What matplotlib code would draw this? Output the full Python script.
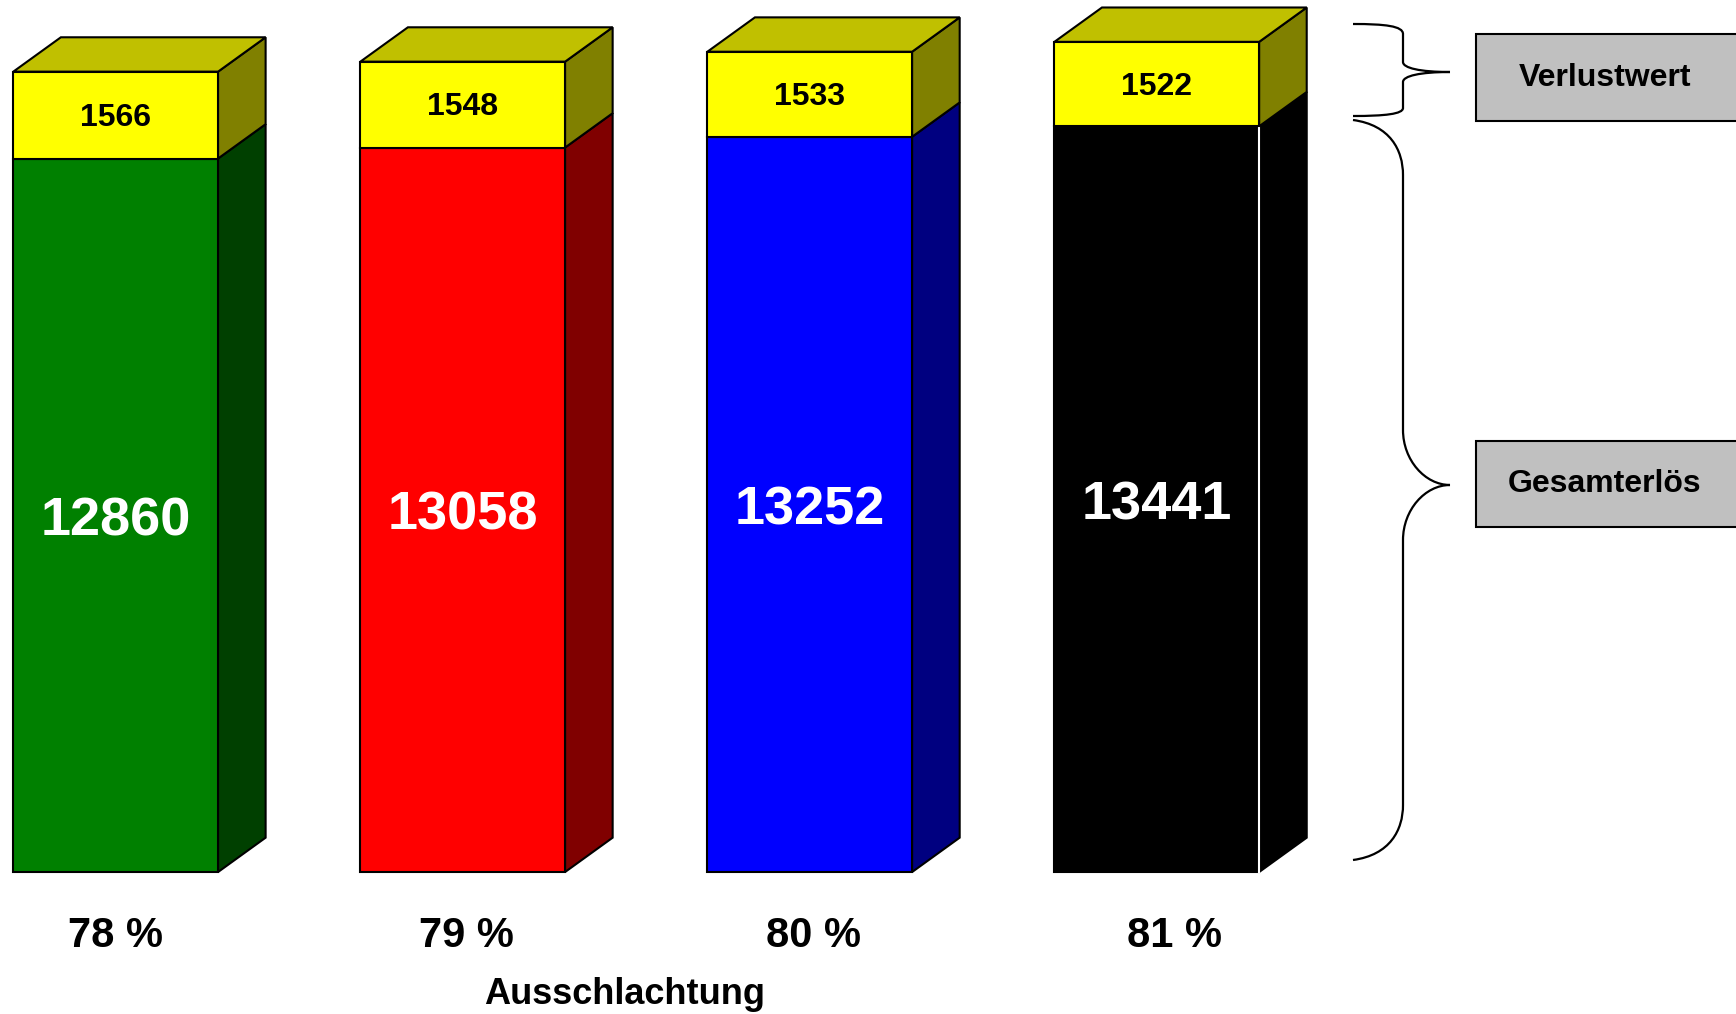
import matplotlib
matplotlib.use('Agg')
import matplotlib.pyplot as plt
from matplotlib.patches import Polygon, Rectangle, PathPatch
from matplotlib.path import Path

plt.rcParams['font.family'] = ['Liberation Sans', 'DejaVu Sans']

# data
ausschlachtung = ['78 %', '79 %', '80 %', '81 %']
gesamterloes = [12860, 13058, 13252, 13441]
verlustwert = [1566, 1548, 1533, 1522]
front_colors = ['#008000', '#FF0000', '#0000FF', '#000000']
side_colors = ['#004000', '#800000', '#000080', '#000000']
edge_colors = ['black', 'black', 'black', 'white']
pct_shift = [0, 0.012, 0.012, 0.05]

W, H = 1736, 1014
fig = plt.figure(figsize=(W / 100, H / 100), dpi=100)

# main axes: x = bar index, y = value
ax = fig.add_axes([0, 0, 1, 1])
ax.set_xlim(-0.3334, 4.669)
ax.set_ylim(-2559, 15717)
ax.axis('off')

bw = 0.59      # bar width
dx = 0.137     # depth in x
dy = 619       # depth in y

for i in range(len(gesamterloes)):
    x0 = i - bw / 2
    x1 = i + bw / 2
    g = gesamterloes[i]
    top = g + verlustwert[i]
    ec = edge_colors[i]
    # lower part (Gesamterlös)
    ax.add_patch(Rectangle((x0, 0), bw, g, facecolor=front_colors[i],
                           edgecolor='black', lw=1.5, zorder=2))
    ax.add_patch(Polygon([(x1, 0), (x1, g), (x1 + dx, g + dy), (x1 + dx, dy)],
                         closed=True, facecolor=side_colors[i], edgecolor='black',
                         lw=1.5, zorder=2))
    if ec == 'white':
        ax.plot([x1, x1], [0, g], color='white', lw=1.5, zorder=3)
    # upper part (Verlustwert)
    ax.add_patch(Rectangle((x0, g), bw, verlustwert[i], facecolor='#FFFF00',
                           edgecolor='black', lw=1.5, zorder=4))
    ax.add_patch(Polygon([(x1, g), (x1, top), (x1 + dx, top + dy), (x1 + dx, g + dy)],
                         closed=True, facecolor='#808000', edgecolor='black',
                         lw=1.5, zorder=4))
    ax.add_patch(Polygon([(x0, top), (x1, top), (x1 + dx, top + dy), (x0 + dx, top + dy)],
                         closed=True, facecolor='#C0C000', edgecolor='black',
                         lw=1.5, zorder=4))
    # labels
    ax.text(i, g + verlustwert[i] / 2 - 45, str(verlustwert[i]), ha='center', va='center',
            fontsize=23, fontweight='bold', color='black', zorder=5)
    ax.text(i, g / 2 - 110, str(g), ha='center', va='center', fontsize=39,
            fontweight='bold', color='white', zorder=5)
    ax.text(i + pct_shift[i], -1150, ausschlachtung[i], ha='center', va='center',
            fontsize=30, fontweight='bold', color='black')

fig.text(625 / W, 1 - 995 / H, 'Ausschlachtung', ha='center', va='center',
         fontsize=26, fontweight='bold')

# overlay in pixel coordinates for braces and legend boxes
ov = fig.add_axes([0, 0, 1, 1])
ov.set_xlim(0, W)
ov.set_ylim(H, 0)
ov.axis('off')
ov.patch.set_alpha(0)

M, L, C = Path.MOVETO, Path.LINETO, Path.CURVE4
top_brace = [
    ((1353, 24), M),
    ((1385, 24), C), ((1403, 26), C), ((1403, 34), C),
    ((1403, 62), L),
    ((1403, 68), C), ((1420, 72), C), ((1450, 72), C),
    ((1420, 72), C), ((1403, 76), C), ((1403, 82), C),
    ((1403, 108), L),
    ((1403, 114), C), ((1385, 116), C), ((1353, 116), C),
]
big_brace = [
    ((1353, 120), M),
    ((1390, 125), C), ((1403, 150), C), ((1403, 175), C),
    ((1403, 430), L),
    ((1403, 460), C), ((1425, 485), C), ((1450, 485), C),
    ((1425, 485), C), ((1403, 510), C), ((1403, 540), C),
    ((1403, 805), L),
    ((1403, 830), C), ((1390, 855), C), ((1353, 860), C),
]
for br in [top_brace, big_brace]:
    verts = [p for p, c in br]
    codes = [c for p, c in br]
    ov.add_patch(PathPatch(Path(verts, codes), facecolor='none',
                           edgecolor='black', lw=1.6))

ov.add_patch(Rectangle((1476, 34), 300, 87, facecolor='#C0C0C0',
                       edgecolor='black', lw=1.5))
ov.add_patch(Rectangle((1476, 441), 300, 86, facecolor='#C0C0C0',
                       edgecolor='black', lw=1.5))
ov.text(1605, 78, 'Verlustwert', ha='center', va='center', fontsize=23,
        fontweight='bold')
ov.text(1605, 484, 'Gesamterlös', ha='center', va='center', fontsize=23,
        fontweight='bold')

fig.savefig('out.png', dpi=100, facecolor='white')
